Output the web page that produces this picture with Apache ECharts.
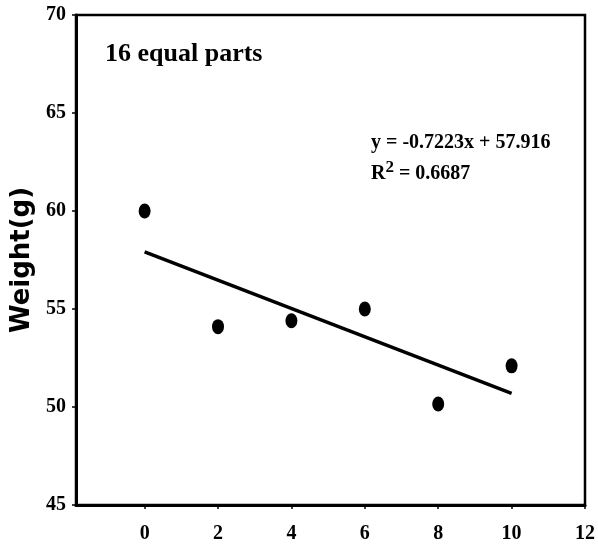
<!DOCTYPE html>
<html>
<head>
<meta charset="utf-8">
<script src="https://cdn.jsdelivr.net/npm/echarts@6/dist/echarts.min.js"></script>
<style>html,body{margin:0;padding:0;background:#fff;}#c{width:598px;height:551px;}</style>
</head>
<body>
<div id="c"></div>
<script>
var xValues = [0, 2, 4, 6, 8, 10];
var weights = [60.0, 54.1, 54.4, 55.0, 50.15, 52.1];
var trendX = [0, 10];
var trendY = [57.916, 50.693];
var xTicks = [0, 2, 4, 6, 8, 10, 12];
var yTicks = [45, 50, 55, 60, 65, 70];
var titleText = '16 equal parts';
var eqText = 'y = -0.7223x + 57.916';
var r2Value = '0.6687';

var chart = echarts.init(document.getElementById('c'));
var serif = '"Liberation Serif", "DejaVu Serif", serif';
chart.setOption({
  backgroundColor: '#fff',
  animation: false,
  grid: { left: 76, right: 12, top: 15, bottom: 46, show: true, borderColor: '#000', borderWidth: 2.5, backgroundColor: 'transparent' },
  xAxis: {
    type: 'value', min: -1.87, max: 12,
    axisLine: { show: true, onZero: false, lineStyle: { color: '#000', width: 3 } },
    axisTick: { show: true, inside: false, length: 4, customValues: xTicks, lineStyle: { color: '#000', width: 1.5 } },
    axisLabel: { customValues: xTicks, color: '#000', fontFamily: serif, fontWeight: 'bold', fontSize: 20, margin: 19 },
    splitLine: { show: false }
  },
  yAxis: {
    type: 'value', min: 45, max: 70, interval: 5,
    name: 'Weight(g)', nameLocation: 'middle', nameGap: 36,
    nameTextStyle: { color: '#000', fontFamily: '"DejaVu Sans", sans-serif', fontWeight: 'bold', fontSize: 26 },
    axisLine: { show: true, onZero: false, lineStyle: { color: '#000', width: 3 } },
    axisTick: { show: true, inside: false, length: 4, lineStyle: { color: '#000', width: 1.5 } },
    axisLabel: { color: '#000', fontFamily: serif, fontWeight: 'bold', fontSize: 20, margin: 10 },
    splitLine: { show: false }
  },
  series: [
    {
      type: 'line', data: trendX.map(function (x, i) { return [x, trendY[i]]; }),
      showSymbol: false, symbol: 'none', lineStyle: { color: '#000', width: 3.5 }, z: 2
    },
    {
      type: 'scatter', data: xValues.map(function (x, i) { return [x, weights[i]]; }),
      symbol: 'circle', symbolSize: [12, 15], itemStyle: { color: '#000', opacity: 1 }, z: 3
    }
  ],
  graphic: [
    { type: 'text', left: 105, top: 41, style: { text: titleText, fill: '#000', font: 'bold 26px ' + serif } },
    { type: 'text', left: 371, top: 133, style: { text: eqText, fill: '#000', font: 'bold 20px ' + serif } },
    { type: 'text', left: 371, top: 159, style: {
        text: '{r|R}{s|2}{r| = ' + r2Value + '}', fill: '#000',
        rich: {
          r: { font: 'bold 20px ' + serif, fill: '#000', verticalAlign: 'bottom' },
          s: { font: 'bold 17px ' + serif, fill: '#000', verticalAlign: 'top', padding: [0, 0, 8, 0] }
        }
    } }
  ]
});
</script>
</body>
</html>
